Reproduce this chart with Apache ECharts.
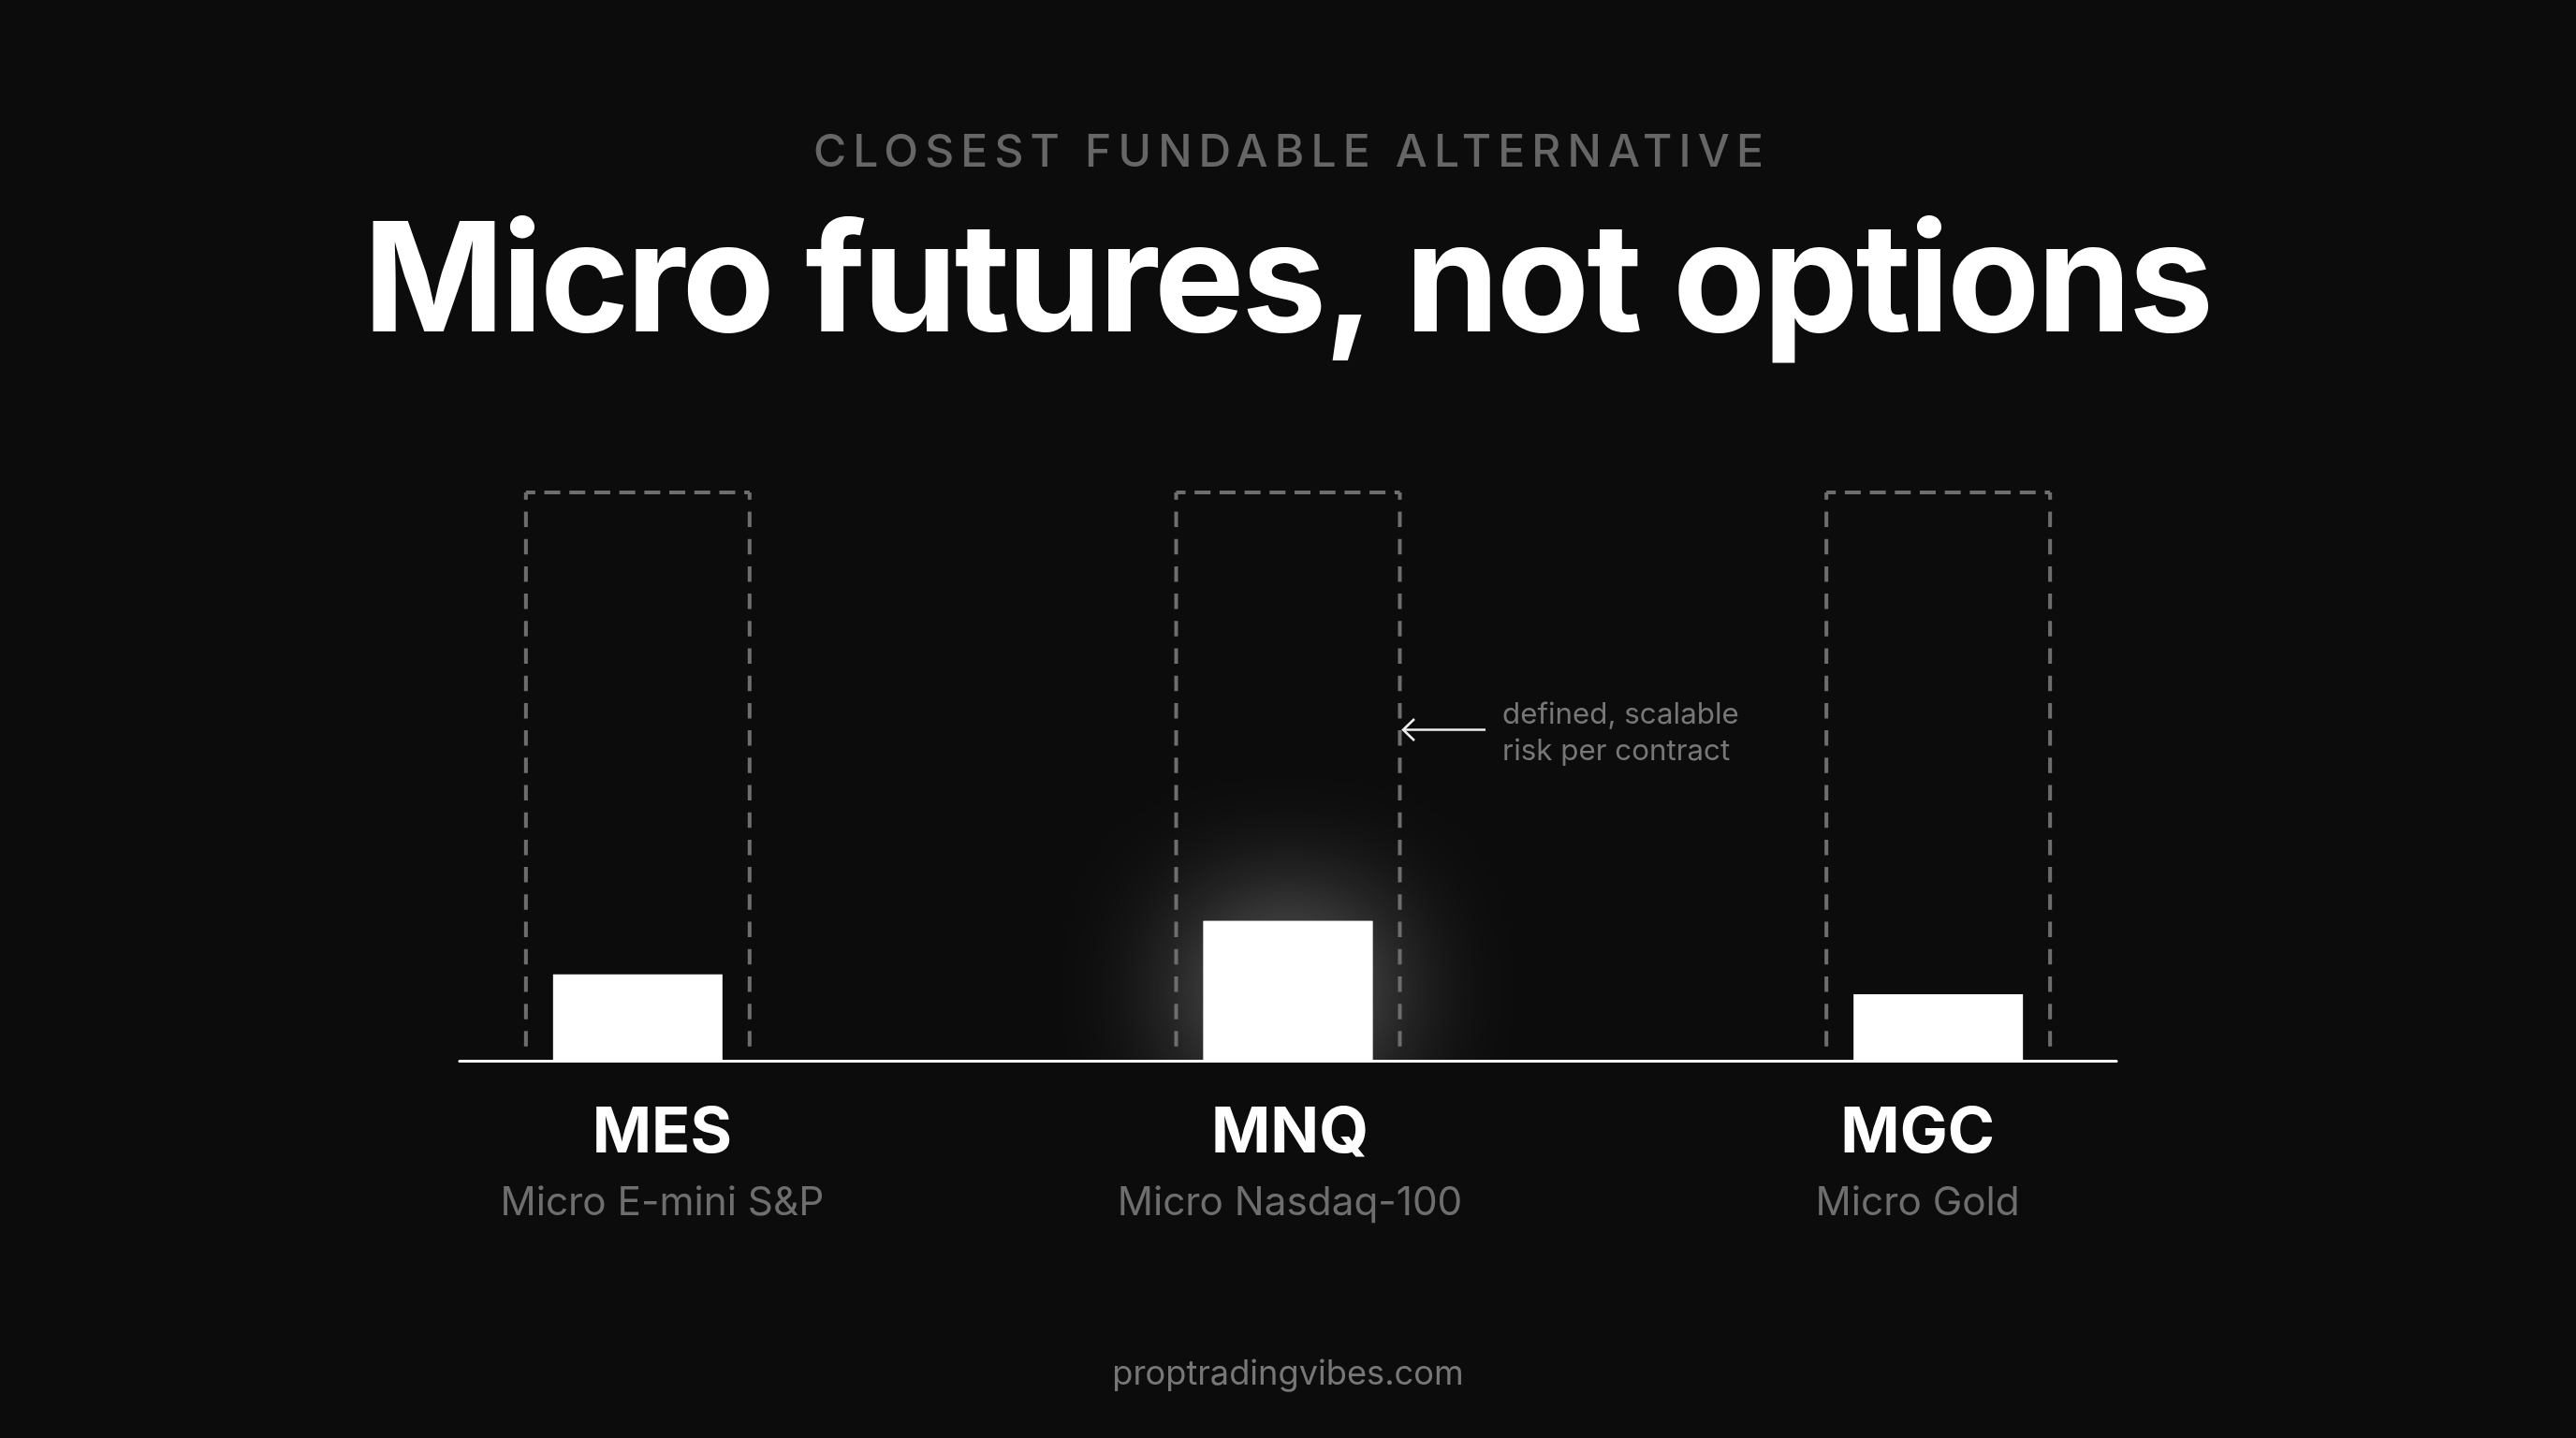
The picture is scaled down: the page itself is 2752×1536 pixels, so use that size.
<!DOCTYPE html>
<html>
<head>
<meta charset="utf-8">
<style>
  html, body { margin: 0; padding: 0; background: #0c0c0c; }
  #chart { width: 2752px; height: 1536px; }
</style>
<script src="https://cdn.jsdelivr.net/npm/echarts@6/dist/echarts.min.js"></script>
</head>
<body>
<div id="chart"></div>
<script>
const tickers = ['MES', 'MNQ', 'MGC'];
const names = ['Micro E-mini S&P', 'Micro Nasdaq-100', 'Micro Gold'];
const barValues = [15.2, 24.6, 11.7];
const capacityTop = [100, 100, 100];
const capacityFloor = [2.5, 2.5, 2.5];
const highlighted = [1];

const eyebrow = 'CLOSEST FUNDABLE ALTERNATIVE';
const heading = 'Micro futures, not options';
const footer = 'proptradingvibes.com';
const note = 'defined, scalable\nrisk per contract';

const FONT = 'Inter';
const BASE_Y = 1133;
const TOP_Y = 526;

// zrender has no letter spacing, set it on the context just for these strings
const tracking = { [eyebrow]: '7.15px', [heading]: '-2.95px' };
const fillText = CanvasRenderingContext2D.prototype.fillText;
CanvasRenderingContext2D.prototype.fillText = function (text, x, y, w) {
    if (!tracking[text]) {
        return w === undefined ? fillText.call(this, text, x, y) : fillText.call(this, text, x, y, w);
    }
    this.save();
    this.letterSpacing = tracking[text];
    fillText.call(this, text, x, y);
    this.restore();
};

const renderCapacity = (params, api) => {
    const x = api.value(0);
    const half = 0.172;
    const tl = api.coord([x - half, api.value(1)]);
    const tr = api.coord([x + half, api.value(1)]);
    const bl = api.coord([x - half, api.value(2)]);
    const br = api.coord([x + half, api.value(2)]);
    const side = { stroke: '#6e6e6e', lineWidth: 4, lineDash: [16.5, 12.7], fill: null };
    const seg = (a, b, style) => ({
        type: 'line',
        shape: { x1: a[0], y1: a[1], x2: b[0], y2: b[1] },
        style
    });
    return {
        type: 'group',
        children: [
            seg(bl, tl, side),
            seg(br, tr, side),
            seg(tl, tr, { stroke: '#6e6e6e', lineWidth: 4, lineDash: [17, 9.7], lineDashOffset: 7, fill: null })
        ]
    };
};

const renderGlow = (params, api) => {
    const x = api.value(0);
    const half = api.size([0.13, 0])[0];
    const top = api.coord([x, api.value(1)]);
    const base = api.coord([x, 0]);
    return {
        type: 'group',
        clipPath: { type: 'rect', shape: { x: top[0] - 400, y: top[1] - 400, width: 800, height: base[1] - top[1] + 400 } },
        children: [{
            type: 'rect',
            shape: { x: top[0] - half, y: top[1], width: half * 2, height: base[1] - top[1] },
            style: { fill: '#fff', shadowBlur: 150, shadowColor: 'rgba(255,255,255,0.5)' }
        }]
    };
};

const chart = echarts.init(document.getElementById('chart'));
chart.setOption({
    animation: false,
    backgroundColor: '#0c0c0c',
    title: [
        {
            text: eyebrow, left: 1375, top: 135, textAlign: 'center',
            textStyle: { fontFamily: FONT, fontSize: 48, fontWeight: 500, color: '#666666' }
        },
        {
            text: heading, left: 1370, top: 219, textAlign: 'center',
            textStyle: { fontFamily: FONT, fontSize: 162, fontWeight: 700, color: '#ffffff' }
        },
        {
            text: footer, left: 1371, top: 1445, textAlign: 'center',
            textStyle: { fontFamily: FONT, fontSize: 36.2, fontWeight: 400, color: '#777777' }
        }
    ],
    grid: [
        { left: 491, width: 1770, top: TOP_Y, height: BASE_Y - TOP_Y },
        { left: 372, width: 2012, top: TOP_Y, height: BASE_Y - TOP_Y }
    ],
    xAxis: [
        {
            type: 'value', gridIndex: 0, min: -0.274, max: 2.274,
            axisLine: { show: true, onZero: false, lineStyle: { color: '#ffffff', width: 3 } },
            axisTick: { show: false }, axisLabel: { show: false }, splitLine: { show: false }
        },
        {
            type: 'category', gridIndex: 1, data: tickers,
            axisLine: { show: false }, axisTick: { show: false },
            axisLabel: {
                margin: 36,
                formatter: (v, i) => '{t|' + v + '}\n{s|' + names[i] + '}',
                rich: {
                    t: { fontFamily: FONT, fontSize: 68, fontWeight: 700, color: '#ffffff', lineHeight: 84 },
                    s: { fontFamily: FONT, fontSize: 42.3, fontWeight: 400, color: '#6e6e6e', lineHeight: 64 }
                }
            }
        }
    ],
    yAxis: [
        { type: 'value', gridIndex: 0, min: 0, max: 100, show: false },
        { type: 'value', gridIndex: 1, min: 0, max: 100, show: false }
    ],
    series: [
        {
            type: 'custom', xAxisIndex: 0, yAxisIndex: 0, silent: true, z: 1,
            renderItem: renderGlow,
            data: highlighted.map((i) => [i, barValues[i]])
        },
        {
            type: 'custom', xAxisIndex: 0, yAxisIndex: 0, silent: true, z: 2,
            renderItem: renderCapacity,
            data: tickers.map((t, i) => [i, capacityTop[i], capacityFloor[i]])
        },
        {
            type: 'bar', xAxisIndex: 0, yAxisIndex: 0, z: 3, barWidth: 181,
            itemStyle: { color: '#ffffff' },
            data: barValues.map((v, i) => [i, v])
        }
    ],
    graphic: [
        {
            type: 'polyline', z: 10,
            shape: { points: [[1511, 768], [1499, 779.5], [1511, 791]] },
            style: { stroke: '#eeeeee', lineWidth: 2.5, fill: null }
        },
        {
            type: 'line', z: 10,
            shape: { x1: 1500, y1: 779.5, x2: 1587, y2: 779.5 },
            style: { stroke: '#eeeeee', lineWidth: 2.5 }
        },
        {
            type: 'text', z: 10, x: 1605, y: 744,
            style: { text: note, font: '400 31.3px ' + FONT, fill: '#777777', lineHeight: 39 }
        }
    ]
});
</script>
</body>
</html>
